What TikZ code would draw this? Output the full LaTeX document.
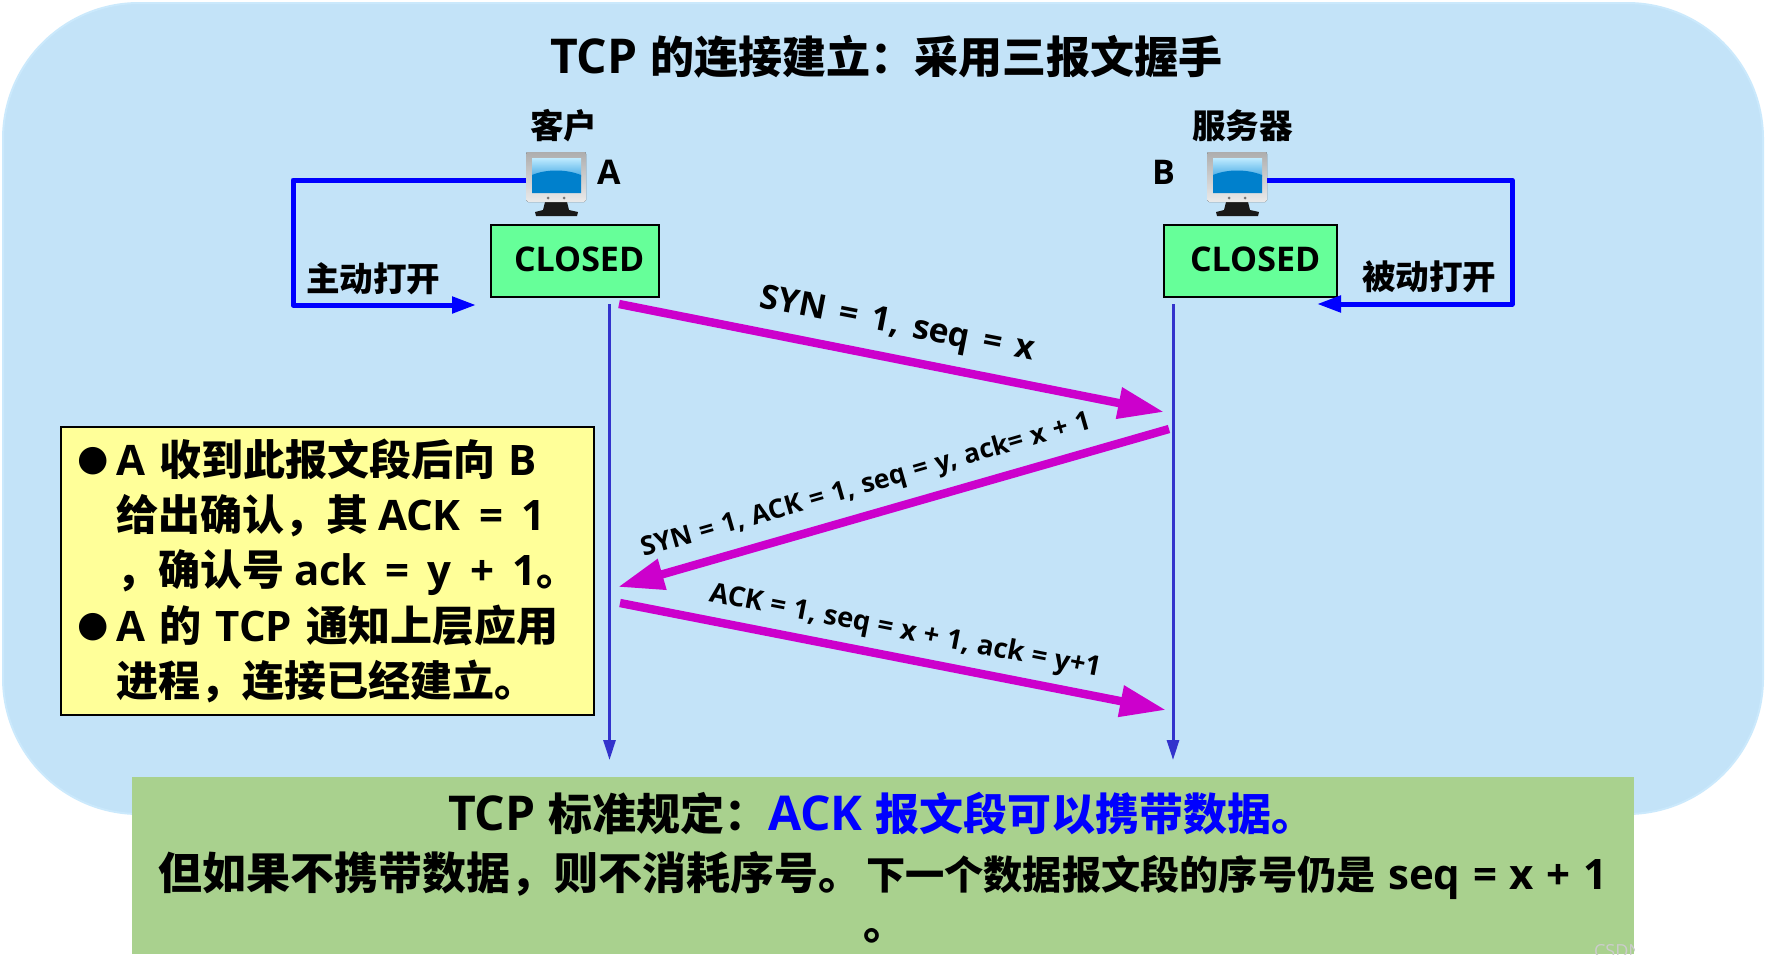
\documentclass[tikz,border=0pt]{standalone}
\usepackage{fontspec}
\usetikzlibrary{arrows.meta}
\setmainfont{Open Sans}[BoldFont={Open Sans Bold}]
\newfontfamily\cjkf{Noto Sans CJK SC Bold}
\newfontfamily\symf{DejaVu Sans}
\newcommand{\Cj}[1]{{\cjkf #1}}
\newcommand{\sz}[2]{\fontsize{#1}{#1}\selectfont\bfseries\spaceskip=#2\relax}
\newcommand{\CjL}[1]{{\fontsize{22pt}{22pt}\selectfont\cjkf #1}}
\newcommand{\CjS}[1]{{\fontsize{19.6pt}{22pt}\selectfont\cjkf #1}}
\definecolor{bgblue}{HTML}{C3E3F8}
\definecolor{bgedge}{HTML}{CBE9FC}
\definecolor{boxgreen}{HTML}{A9D18E}
\definecolor{stategreen}{HTML}{66FF99}
\definecolor{noteyellow}{HTML}{FFFF99}
\definecolor{msg}{HTML}{CC00CC}
\definecolor{life}{HTML}{3333CC}
\definecolor{openblue}{HTML}{0000FF}
\definecolor{scrtop}{HTML}{BFEBFF}
\definecolor{scrmid}{HTML}{4FAEE6}
\definecolor{scrlow}{HTML}{0080CC}
\tikzset{
  lbl/.style={inner sep=0pt,outer sep=0pt,anchor=base west,text=black},
  title/.style={lbl,font=\sz{24pt}{.26em}},
  small/.style={lbl,font=\sz{16.8pt}{.3em}},
  note/.style={lbl,font=\sz{21pt}{.34em}},
  notew/.style={lbl,font=\sz{21pt}{.44em}},
  foot/.style={lbl,font=\sz{24pt}{.26em}},
  footb/.style={lbl,font=\sz{21pt}{.3em}},
  state/.style={draw=black,line width=1pt,fill=stategreen,inner sep=0pt,minimum width=#1,minimum height=36pt,anchor=north west},
  openarrow/.style={draw=openblue,line width=2.5pt,line join=round,-{Triangle[length=12pt,width=8pt]}},
  lifeline/.style={draw=life,line width=1.5pt,-{Triangle[length=10pt,width=6pt]}},
  msgarrow/.style={draw=msg,line width=4.2pt,-{Triangle[length=23pt,width=15pt]}},
  msglabel/.style={inner sep=0pt,outer sep=0pt,text=black},
}
\newcommand{\monitor}[3]{% name, left x, top y
  \begin{scope}[shift={(#2,#3)}]
    \fill[black!90] (19,50) -- (41,50) -- (43,58) -- (52,60) -- (51,64) -- (10,64) -- (9,60) -- (17,58) -- cycle;
    \fill[top color=black!32,bottom color=black!8] (0,2) -- (1,0) -- (59,0) -- (60,2) -- (60,48) -- (58,50) -- (2,50) -- (0,48) -- cycle;
    \fill[top color=scrtop,bottom color=scrmid] (6,6) rectangle (55,24);
    \fill[scrlow] (6,23) .. controls (20,17) and (40,17) .. (55,23) -- (55,41) -- (6,41) -- cycle;
    \fill[black!55] (22,46) circle (1.5) (38,46) circle (1.5);
    \node[inner sep=0pt,minimum width=30pt,minimum height=25pt,anchor=north west] (#1) at (0,0) {};
  \end{scope}}
\begin{document}
\begin{tikzpicture}[x=0.5pt,y=-0.5pt]
\useasboundingbox (0,0) rectangle (1766,969);
\fill[white] (0,0) rectangle (1766,969);
% background panel
\fill[bgblue,draw=bgedge,line width=1pt,rounded corners=68pt] (3,3) rectangle (1763,814);
% title
\node[title] (ttl) at (550,73) {TCP \CjL{的连接建立：采用三报文握手}};
% hosts
\node[small] (cl) at (530,138) {\Cj{客户}};
\node[small] (sv) at (1192,138) {\Cj{服务器}};
\monitor{pcA}{526}{152}
\monitor{pcB}{1207}{152}
\node[lbl,font=\sz{17pt}{.3em}] (nA) at (597,184) {A};
\node[lbl,font=\sz{17pt}{.3em}] (nB) at (1152,184) {B};
% states
\node[state=84pt] (sA) at (490,224) {};
\node[state=86.5pt] (sB) at (1163,224) {};
\node[lbl,font=\sz{17pt}{.3em}] (tA) at (514,271) {CLOSED};
\node[lbl,font=\sz{17pt}{.3em}] (tB) at (1190,271) {CLOSED};
% open arrows
\coordinate (aIn) at (476,305);
\coordinate (bIn) at (1317,304);
\coordinate (aC) at (293,180);
\coordinate (aD) at (293,305);
\coordinate (bC) at (1512,180);
\coordinate (bD) at (1512,304);
\coordinate (aOut) at (526,180);
\coordinate (bOut) at (1267,180);
\draw[openarrow] (aOut) -- (aC) -- (aD) -- (aIn);
\draw[openarrow] (bOut) -- (bC) -- (bD) -- (bIn);
\node[small] (oA) at (306,291) {\Cj{主动打开}};
\node[small] (oB) at (1362,289) {\Cj{被动打开}};
% life lines
\coordinate (lA0) at (609.5,304);
\coordinate (lA1) at (609.5,760);
\coordinate (lB0) at (1173,304);
\coordinate (lB1) at (1173,760);
\draw[lifeline] (lA0) -- (lA1);
\draw[lifeline] (lB0) -- (lB1);
% messages
\coordinate (m1a) at (619,304);
\coordinate (m1b) at (1164,412);
\coordinate (m2a) at (1169,429);
\coordinate (m2b) at (618,587);
\coordinate (m3a) at (620,603);
\coordinate (m3b) at (1166,710);
\draw[msgarrow] (m1a) -- (m1b);
\draw[msgarrow] (m2a) -- (m2b);
\draw[msgarrow] (m3a) -- (m3b);
\node[msglabel,rotate=-11,font=\sz{16.8pt}{.4em}] (l1) at (897,326) {SYN = 1, seq = x};
\node[msglabel,rotate=16,font=\sz{13.2pt}{.31em}] (l2) at (866,486) {SYN = 1, ACK = 1, seq = y, ack= x + 1};
\node[msglabel,rotate=-11,font=\sz{13.7pt}{.28em}] (l3) at (905,632) {ACK = 1, seq = x + 1, ack = y+1};
% note
\node[draw=black,line width=1pt,fill=noteyellow,inner sep=0pt,minimum width=266.5pt,minimum height=144pt,anchor=north west] (nb) at (60,426) {};
\node[lbl,font=\fontsize{18pt}{18pt}\selectfont] (b1) at (77,470) {\symf ●};
\node[note] (n1) at (116,475) {A \Cj{收到此报文段后向}\hspace{6.5pt}B};
\node[notew] (n2) at (116,530) {\Cj{给出确认，其}\hspace{5pt}ACK = 1};
\node[notew] (n3) at (116,585) {\Cj{，确认号}\hspace{5pt}ack = y + 1\Cj{。}};
\node[lbl,font=\fontsize{18pt}{18pt}\selectfont] (b2) at (77,636) {\symf ●};
\node[note] (n4) at (116,641) {A \Cj{的} TCP \Cj{通知上层应用}};
\node[note] (n5) at (116,696) {\Cj{进程，连接已经建立。}};
% footer
\fill[boxgreen] (132,777) rectangle (1634,954);
\node[foot] (f1) at (448,830) {TCP \CjL{标准规定：}\textcolor{openblue}{ACK \CjL{报文段可以携带数据。}}};
\node[footb] (f2) at (158,889) {\CjL{但如果不携带数据，则不消耗序号。}\hspace{2pt}\CjS{下一个数据报文段的序号仍是} seq = x + 1};
\node[foot] (f3) at (863,939) {\CjL{。}};
\begin{scope}
\clip (1580,930) rectangle (1634,954);
\node[lbl,text=white!80!black,font=\fontsize{9pt}{9pt}\selectfont] (wm) at (1594,957) {CSDN};
\end{scope}
\end{tikzpicture}
\end{document}
